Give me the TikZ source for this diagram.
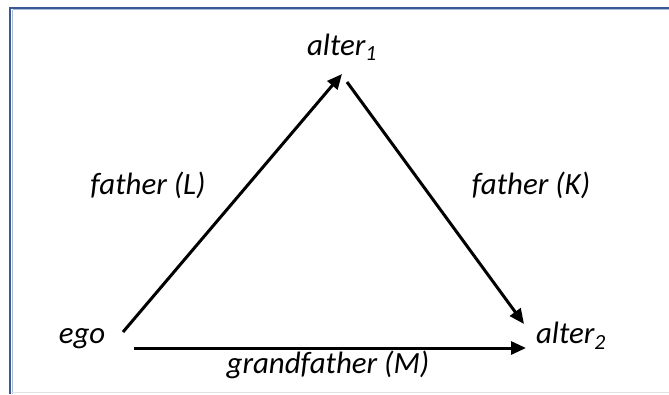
\documentclass[tikz,border=0pt]{standalone}
\usepackage{fontspec}
\setmainfont{Carlito}
\usetikzlibrary{arrows.meta}
\definecolor{frameblue}{RGB}{59,89,152}
\definecolor{framelight}{RGB}{170,185,215}
\definecolor{bottomgray}{RGB}{225,225,225}
\tikzset{
  lbl/.style={font=\fontsize{31}{36}\selectfont\itshape, inner sep=0pt},
  conn/.style={line width=3bp, -{Triangle[length=15bp,width=13bp]}},
}
\begin{document}
\begin{tikzpicture}[x=1bp,y=-1bp]
\useasboundingbox (0,0) rectangle (669,394);
\fill[white] (0,0) rectangle (669,394);
% frame
\draw[framelight, line width=1bp] (12.5,9.5) -- (669,9.5);
\draw[framelight, line width=1bp] (12.5,9.5) -- (12.5,394);
\draw[frameblue, line width=2.2bp] (10,8) -- (669,8);
\draw[frameblue, line width=2.2bp] (10,7) -- (10,394);
\draw[bottomgray, line width=1bp] (11,392.5) -- (669,392.5);
% nodes
\node[lbl] (alter1) at (342,47) {alter\textsubscript{1}};
\node[lbl] (ego) at (82,339) {ego};
\node[lbl] (alter2) at (571,336) {alter\textsubscript{2}};
\node[lbl] (lL) at (148,185) {father (L)};
\node[lbl] (lK) at (531,185) {father (K)};
\node[lbl] (lM) at (328,365) {grandfather (M)};
% connector ends
\coordinate (s1) at (123,332);
\coordinate (e1) at (342,74);
\coordinate (s2) at (347,82);
\coordinate (e2) at (524,324);
\coordinate (s3) at (134,348);
\coordinate (e3) at (526,348);
\draw[conn] (s1) -- (e1);
\draw[conn] (s2) -- (e2);
\draw[conn] (s3) -- (e3);
\end{tikzpicture}
\end{document}
